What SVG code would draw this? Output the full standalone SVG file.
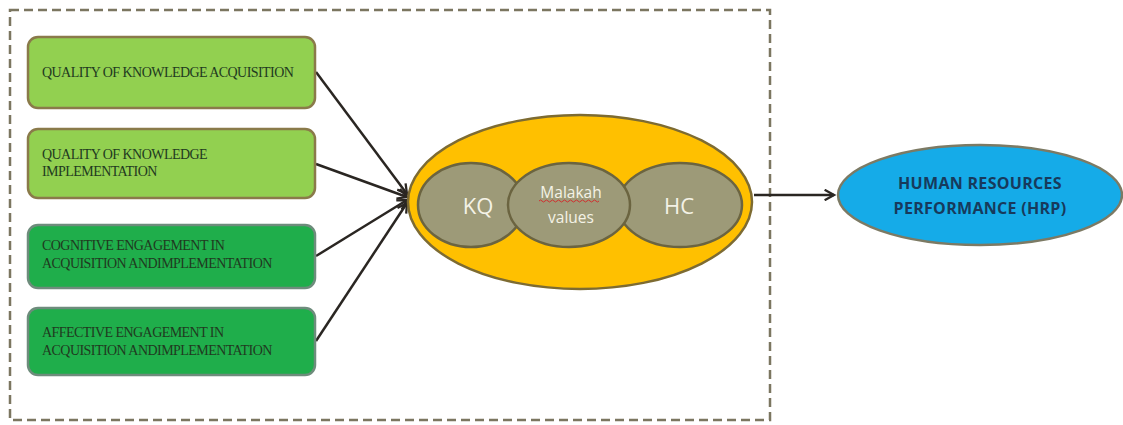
<svg xmlns="http://www.w3.org/2000/svg" width="1123" height="425" viewBox="0 0 1123 425">
  <style>
    .frame { fill: none; stroke: #7b7660; stroke-width: 2.5; stroke-dasharray: 9 5; }
    .light { fill: #92d050; stroke: #8a7a4a; stroke-width: 2.5; }
    .dark { fill: #1fae4b; stroke: #6e8c7c; stroke-width: 2.5; }
    .box-text { font-family: "Liberation Serif", serif; font-size: 14px; fill: #1f3a1f; letter-spacing: -0.55px; }
    .link { fill: none; stroke: #2a2622; stroke-width: 2.5; }
    .outer { fill: #ffc000; stroke: #7d6b32; stroke-width: 2.5; }
    .inner { fill: #9d9a78; stroke: #6b6440; stroke-width: 2.5; }
    .inner-text { font-family: "Open Sans", "Liberation Sans", sans-serif; fill: #f4f2e6; text-anchor: middle; }
    .hrp { fill: #15abe8; stroke: #7c7a64; stroke-width: 2.5; }
    .hrp-text { font-family: "Open Sans", "Liberation Sans", sans-serif; font-size: 16px; font-weight: bold; fill: #173a5c; text-anchor: middle; letter-spacing: 0.3px; }
  </style>
  <defs>
    <marker id="chevron" viewBox="0 0 12 12" refX="10" refY="6" markerWidth="5" markerHeight="5" orient="auto" markerUnits="strokeWidth">
      <path d="M1,1 L10,6 L1,11" fill="none" stroke="#2a2622" stroke-width="2.2"/>
    </marker>
  </defs>

  <rect width="1123" height="425" fill="#ffffff"/>

  <!-- dashed boundary around the inputs and the core ellipse -->
  <rect class="frame" x="10" y="10" width="760" height="410"/>

  <g id="connectors">
    <line class="link" x1="316" y1="72" x2="407" y2="194" marker-end="url(#chevron)"/>
    <line class="link" x1="316" y1="164" x2="407" y2="197" marker-end="url(#chevron)"/>
    <line class="link" x1="316" y1="256" x2="407" y2="200" marker-end="url(#chevron)"/>
    <line class="link" x1="316" y1="341" x2="407" y2="203" marker-end="url(#chevron)"/>
    <line class="link" x1="754" y1="195" x2="834" y2="195" marker-end="url(#chevron)"/>
  </g>

  <g id="node-qka">
    <rect class="light" x="28" y="37" width="287" height="71" rx="10"/>
    <text class="box-text" x="42" y="77">QUALITY OF KNOWLEDGE ACQUISITION</text>
  </g>

  <g id="node-qki">
    <rect class="light" x="28" y="129" width="287" height="69" rx="10"/>
    <text class="box-text" x="42" y="159">QUALITY OF KNOWLEDGE</text>
    <text class="box-text" x="42" y="176">IMPLEMENTATION</text>
  </g>

  <g id="node-cognitive">
    <rect class="dark" x="28" y="225" width="287" height="63" rx="10"/>
    <text class="box-text" x="42" y="250">COGNITIVE ENGAGEMENT  IN</text>
    <text class="box-text" x="42" y="268">ACQUISITION ANDIMPLEMENTATION</text>
  </g>

  <g id="node-affective">
    <rect class="dark" x="28" y="308" width="287" height="67" rx="10"/>
    <text class="box-text" x="42" y="337">AFFECTIVE ENGAGEMENT  IN</text>
    <text class="box-text" x="42" y="355">ACQUISITION ANDIMPLEMENTATION</text>
  </g>

  <g id="node-core">
    <ellipse class="outer" cx="580" cy="202" rx="172" ry="87"/>
    <g id="node-kq">
      <ellipse class="inner" cx="471" cy="205" rx="53" ry="42"/>
      <text class="inner-text" x="478" y="214" font-size="22">KQ</text>
    </g>
    <g id="node-hc">
      <ellipse class="inner" cx="680" cy="205" rx="62" ry="42"/>
      <text class="inner-text" x="679" y="214" font-size="22">HC</text>
    </g>
    <g id="node-malakah">
      <ellipse class="inner" cx="569" cy="205" rx="61" ry="42"/>
      <text class="inner-text" x="571" y="198" font-size="15.5">Malakah</text>
      <path d="M539,201 q1.5,-2 3,0 t3,0 t3,0 t3,0 t3,0 t3,0 t3,0 t3,0 t3,0 t3,0 t3,0 t3,0 t3,0 t3,0 t3,0 t3,0 t3,0 t3,0 t3,0 t3,0" fill="none" stroke="#d03030" stroke-width="1"/>
      <text class="inner-text" x="571" y="223" font-size="15.5">values</text>
    </g>
  </g>

  <g id="node-hrp">
    <ellipse class="hrp" cx="980" cy="195" rx="142" ry="50"/>
    <text class="hrp-text" x="980" y="189">HUMAN RESOURCES</text>
    <text class="hrp-text" x="980" y="214">PERFORMANCE (HRP)</text>
  </g>
</svg>
